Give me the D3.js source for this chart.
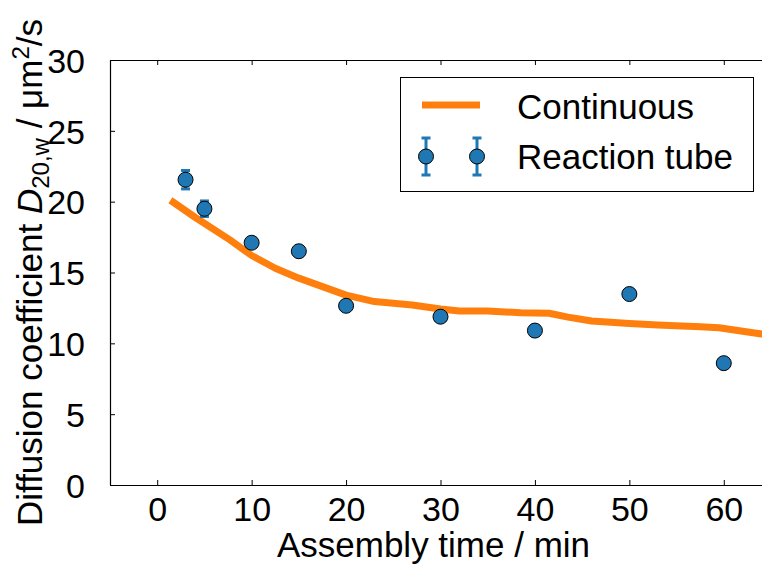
<!DOCTYPE html>
<html>
<head>
<meta charset="utf-8">
<script src="https://cdn.jsdelivr.net/npm/d3@7"></script>
<style>
  body { margin: 0; background: #fff; }
  svg text { font-family: "Liberation Sans", Arial, Helvetica, sans-serif; fill: #000; }
</style>
</head>
<body>
<div class="chart"></div>
<script>
// reaction tube measurements
var tubeTime = [3, 5, 10, 15, 20, 30, 40, 50, 60];
var tubeD = [21.55, 19.5, 17.1, 16.5, 12.65, 11.88, 10.9, 13.48, 8.6];
var tubeErr = [0.65, 0.55, 0.3, 0.3, 0.3, 0.3, 0.3, 0.3, 0.3];

// continuous measurement
var contTime = [1.4, 4, 7.7, 10, 12.5, 15, 17.5, 20, 23, 27, 30, 32, 35, 38.5, 41.5, 43.5, 46, 50, 53, 57.5, 59.5, 62, 64, 65];
var contD = [20.1, 18.9, 17.3, 16.2, 15.3, 14.6, 14.0, 13.4, 12.95, 12.7, 12.42, 12.28, 12.28, 12.16, 12.12, 11.85, 11.58, 11.4, 11.3, 11.17, 11.1, 10.85, 10.66, 10.58];

var xTicks = [0, 10, 20, 30, 40, 50, 60];
var yTicks = [0, 5, 10, 15, 20, 25, 30];
var legendLabels = ["Continuous", "Reaction tube"];

var blue = "#1f77b4", orange = "#ff7f0e";

var margin = {top: 60, left: 110},
    width = 661,
    height = 425;

var svg = d3.select(".chart").append("svg")
    .attr("width", 762)
    .attr("height", 572);

var g = svg.append("g")
    .attr("transform", "translate(" + margin.left + "," + margin.top + ")");

var x = d3.scaleLinear().domain([-5, 65]).range([0, width]);
var y = d3.scaleLinear().domain([0, 30]).range([height, 0]);

svg.append("defs").append("clipPath").attr("id", "clip")
  .append("rect").attr("width", width).attr("height", height);

// continuous line
var line = d3.line()
    .x(function(d, i) { return x(contTime[i]); })
    .y(function(d) { return y(d); });

g.append("path")
    .datum(contD)
    .attr("clip-path", "url(#clip)")
    .attr("d", line)
    .attr("fill", "none")
    .attr("stroke", orange)
    .attr("stroke-width", 7)
    .attr("stroke-linejoin", "round");

// error bars
var pts = tubeTime.map(function(t, i) { return {t: t, d: tubeD[i], e: tubeErr[i]}; });
var eb = g.selectAll(".eb").data(pts).enter().append("g").attr("class", "eb");
eb.append("line")
    .attr("x1", function(d) { return x(d.t); })
    .attr("x2", function(d) { return x(d.t); })
    .attr("y1", function(d) { return y(d.d - d.e); })
    .attr("y2", function(d) { return y(d.d + d.e); })
    .attr("stroke", blue).attr("stroke-width", 3);
[-1, 1].forEach(function(s) {
  eb.append("line")
      .attr("x1", function(d) { return x(d.t) - 4.5; })
      .attr("x2", function(d) { return x(d.t) + 4.5; })
      .attr("y1", function(d) { return y(d.d + s * d.e); })
      .attr("y2", function(d) { return y(d.d + s * d.e); })
      .attr("stroke", blue).attr("stroke-width", 3);
});

g.selectAll(".dot").data(pts).enter().append("circle")
    .attr("class", "dot")
    .attr("cx", function(d) { return x(d.t); })
    .attr("cy", function(d) { return y(d.d); })
    .attr("r", 7.5)
    .attr("fill", blue)
    .attr("stroke", "#000")
    .attr("stroke-width", 1);

// axes, ticks inside
var axB = g.append("g")
    .attr("transform", "translate(0," + height + ")")
    .call(d3.axisBottom(x).tickValues(xTicks).tickSizeInner(-5).tickSizeOuter(0).tickPadding(12));
var axT = g.append("g")
    .call(d3.axisTop(x).tickValues(xTicks).tickSizeInner(-5).tickSizeOuter(0).tickFormat(""));
var axL = g.append("g")
    .call(d3.axisLeft(y).tickValues(yTicks).tickSizeInner(-5).tickSizeOuter(0).tickPadding(25));

[axB, axT, axL].forEach(function(a) {
  a.select(".domain").attr("stroke", "#000").attr("stroke-width", 1.2);
  a.selectAll(".tick line").attr("stroke", "#000").attr("stroke-width", 1);
  a.selectAll("text").attr("font-size", 34).attr("font-family", null);
});
axL.selectAll("text").attr("dy", "0.36em");

// axis labels
svg.append("text")
    .attr("x", margin.left + width / 2 - 7)
    .attr("y", 557)
    .attr("text-anchor", "middle")
    .attr("font-size", 35)
    .text("Assembly time / min");

var yl = svg.append("text")
    .attr("transform", "translate(42," + (margin.top + height / 2) + ") rotate(-90)")
    .attr("text-anchor", "middle")
    .attr("font-size", 35);
yl.append("tspan").text("Diffusion coefficient ");
yl.append("tspan").attr("font-style", "italic").text("D");
yl.append("tspan").attr("font-size", 24).attr("dy", 7).text("20,w");
yl.append("tspan").attr("dy", -7).text(" / μm");
yl.append("tspan").attr("font-size", 24).attr("dy", -13).text("2");
yl.append("tspan").attr("dy", 13).text("/s");

// legend
var lg = svg.append("g");
lg.append("rect")
    .attr("x", 400.5).attr("y", 77.5)
    .attr("width", 353).attr("height", 114)
    .attr("fill", "#fff").attr("stroke", "#000").attr("stroke-width", 1);
lg.append("line")
    .attr("x1", 422).attr("x2", 480).attr("y1", 105).attr("y2", 105)
    .attr("stroke", orange).attr("stroke-width", 7);
[426, 477].forEach(function(cx) {
  lg.append("line").attr("x1", cx).attr("x2", cx).attr("y1", 138).attr("y2", 175)
      .attr("stroke", blue).attr("stroke-width", 3);
  [138, 175].forEach(function(cy) {
    lg.append("line").attr("x1", cx - 4.5).attr("x2", cx + 4.5).attr("y1", cy).attr("y2", cy)
        .attr("stroke", blue).attr("stroke-width", 3);
  });
  lg.append("circle").attr("cx", cx).attr("cy", 156.5).attr("r", 7.5)
      .attr("fill", blue).attr("stroke", "#000").attr("stroke-width", 1);
});
lg.selectAll(".lt").data(legendLabels).enter().append("text")
    .attr("x", 517)
    .attr("y", function(d, i) { return 119 + i * 50; })
    .attr("font-size", 35)
    .text(function(d) { return d; });
</script>
</body>
</html>
